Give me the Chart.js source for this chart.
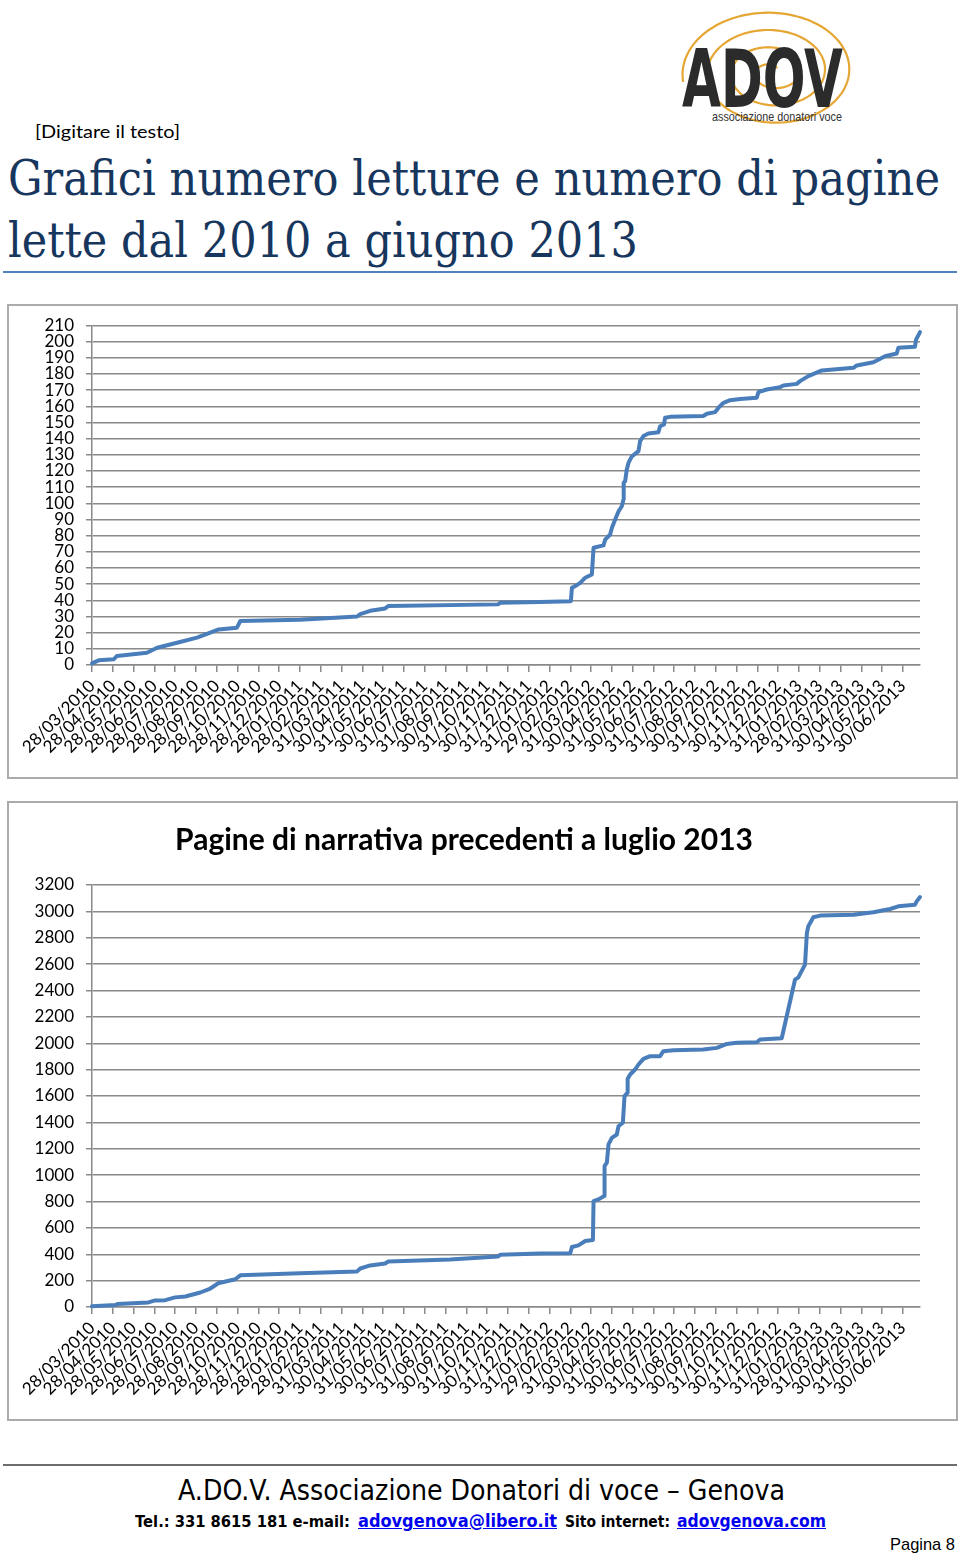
<!DOCTYPE html>
<html><head><meta charset="utf-8">
<script src="https://cdn.jsdelivr.net/npm/chart.js@4.4.1/dist/chart.umd.min.js"></script>
<style>
html,body{margin:0;padding:0;background:#fff;}
body{width:960px;height:1556px;position:relative;overflow:hidden;font-family:Lato,sans-serif;}
.abs{position:absolute;white-space:nowrap;line-height:1;}
.fit{transform-origin:0 0;display:inline-block;}
.frame{position:absolute;border:2px solid #ababab;box-sizing:border-box;pointer-events:none;}
canvas{position:absolute;}
a{color:#0000ee;}
</style></head><body>

<svg id="logo" class="abs" style="left:640px;top:0;" width="220" height="135" viewBox="0 0 220 135">
  <polyline id="spiral" fill="none" stroke="#e6a634" stroke-width="2.2" points=""/>
  <text x="42" y="107" font-family="DejaVu Sans" font-weight="bold" font-size="80" fill="#2b2b2b" textLength="161" lengthAdjust="spacingAndGlyphs">ADOV</text>
  <text x="72" y="121" font-family="Liberation Sans Narrow, Liberation Sans" font-size="13" fill="#333" textLength="130" lengthAdjust="spacingAndGlyphs">associazione donatori voce</text>
</svg>

<div class="abs" style="left:35px;top:122px;font-size:18px;color:#000;"><span class="fit" data-w="145">[Digitare il testo]</span></div>
<div class="abs" style="left:8px;top:154px;font-family:'DejaVu Serif',serif;font-size:48px;color:#17365D;"><span class="fit" data-w="932">Grafici numero letture e numero di pagine</span></div>
<div class="abs" style="left:8px;top:216px;font-family:'DejaVu Serif',serif;font-size:48px;color:#17365D;"><span class="fit" data-w="630">lette dal 2010 a giugno 2013</span></div>
<div class="abs" style="left:3px;top:271px;width:954px;height:2px;background:#4F81BD;"></div>

<canvas id="c1" width="949" height="473" style="left:8px;top:305px;"></canvas>
<div class="frame" style="left:7px;top:304px;width:951px;height:475px;"></div>
<canvas id="c2" width="949" height="618" style="left:8px;top:802px;"></canvas>
<div class="frame" style="left:7px;top:801px;width:951px;height:620px;"></div>

<div class="abs" style="left:3px;top:1464px;width:954px;height:2px;background:#6d6d6d;"></div>
<div class="abs" style="left:178px;top:1476px;font-family:'DejaVu Sans',sans-serif;font-size:29px;color:#000;"><span class="fit" data-w="607">A.DO.V. Associazione Donatori di voce – Genova</span></div>
<div class="abs" style="left:135px;top:1514px;font-family:'DejaVu Sans',sans-serif;font-weight:bold;font-size:16px;color:#000;"><span class="fit" data-w="215">Tel.: 331 8615 181 e-mail:</span></div>
<div class="abs" style="left:358px;top:1512px;font-family:'DejaVu Sans',sans-serif;font-weight:bold;font-size:18px;"><a class="fit" data-w="199" href="#">adovgenova@libero.it</a></div>
<div class="abs" style="left:565px;top:1514px;font-family:'DejaVu Sans',sans-serif;font-weight:bold;font-size:16px;color:#000;"><span class="fit" data-w="105">Sito internet:</span></div>
<div class="abs" style="left:677px;top:1512px;font-family:'DejaVu Sans',sans-serif;font-weight:bold;font-size:18px;"><a class="fit" data-w="149" href="#">adovgenova.com</a></div>
<div class="abs" style="left:890px;top:1536px;font-family:'Liberation Sans Narrow','Liberation Sans',sans-serif;font-size:17px;color:#000;"><span class="fit" data-w="65">Pagina 8</span></div>

<script>
// ---------- DATA ----------
const tickLabels = ["28/03/2010","28/04/2010","28/05/2010","28/06/2010","28/07/2010","28/08/2010","28/09/2010","28/10/2010","28/11/2010","28/12/2010","28/01/2011","28/02/2011","31/03/2011","30/04/2011","31/05/2011","30/06/2011","31/07/2011","31/08/2011","30/09/2011","31/10/2011","30/11/2011","31/12/2011","31/01/2012","29/02/2012","31/03/2012","30/04/2012","31/05/2012","30/06/2012","31/07/2012","31/08/2012","30/09/2012","31/10/2012","30/11/2012","31/12/2012","31/01/2013","28/02/2013","31/03/2013","30/04/2013","31/05/2013","30/06/2013"];

// x = months elapsed since 28/03/2010 (fractional), y = cumulative value
const lettureX = [0,0.32,1.04,1.2,2.64,3.13,4.09,5.05,5.69,6.09,6.97,7.13,10.0,12.75,12.9,13.38,14.1,14.25,19.53,19.63,21.55,23.03,23.08,23.24,23.48,23.72,24.04,24.12,24.6,24.68,24.92,25.0,25.16,25.32,25.48,25.56,25.57,25.64,25.72,25.8,25.96,26.28,26.36,26.52,26.76,27.24,27.32,27.51,27.56,27.8,29.4,29.57,29.97,30.12,30.37,30.69,31.17,31.97,32.05,32.45,33.09,33.25,33.89,34.05,34.45,35.1,36.62,36.78,37.58,38.14,38.7,38.78,39.58,39.63,39.82];
const lettureY = [1,2.9,3.5,5.6,7.6,10.7,13.8,16.9,20,22,23.1,27.2,28,30,31.5,33.5,35,36.5,37.5,38.5,39,39.5,47.7,48.8,50.8,54,56,72.5,74,77.6,80.7,84.8,90,95,98.2,102.4,112.7,113.7,121,125,129,132.3,138.5,141.6,143.2,144,147.7,148.8,152.9,153.5,154,155.4,156.4,159,162.2,163.8,164.6,165.3,168.8,170.4,171.9,172.9,173.9,175.6,178.7,182.2,183.8,185.3,187.3,191,192.7,196.2,196.8,201.3,205.9];

const pagineX = [0,1.12,1.22,2.71,3.04,3.52,4.0,4.49,5.21,5.69,5.93,6.07,6.89,7.13,10.01,12.75,12.9,13.38,14.1,14.25,17.22,19.53,19.63,21.55,23.0,23.08,23.39,23.72,24.09,24.12,24.36,24.63,24.65,24.76,24.84,25.0,25.24,25.32,25.53,25.56,25.61,25.75,25.76,25.88,26.12,26.28,26.52,26.84,27.32,27.48,27.96,29.4,30.05,30.53,31.01,31.97,32.13,33.17,33.81,33.97,34.29,34.38,34.45,34.69,35.02,36.62,37.58,38.38,38.78,39.58,39.66,39.82];
const pagineY = [5,15,22,35,50,52,73,80,110,140,165,180,210,240,255,270,292,315,330,345,360,383,397,405,407,455,467,500,508,803,816,841,1068,1094,1233,1283,1308,1371,1397,1472,1599,1624,1730,1763,1801,1839,1882,1902,1902,1940,1947,1952,1965,1995,2003,2008,2028,2038,2483,2500,2596,2836,2887,2955,2968,2975,2993,3018,3038,3051,3076,3109];

const chart2Title = "Pagine di narrativa precedenti a luglio 2013";

// ---------- RENDER ----------
Chart.defaults.font.family = "Lato, sans-serif";
Chart.defaults.color = "#000";
const GRID = "#8a8a8a";

function makeChart(id, xs, ys, yMax, yStep, title, xMax) {
  const opts = {
    responsive: false,
    animation: false,
    devicePixelRatio: 1,
    layout: { padding: { top: title ? 0 : 20, right: 37, left: 0, bottom: 0 } },
    plugins: {
      legend: { display: false },
      tooltip: { enabled: false },
      title: title ? {
        display: true, text: title, color: "#000",
        font: { family: "Lato, sans-serif", size: 30, weight: "bold", lineHeight: 1.2 },
        padding: { top: 20, bottom: 27 }
      } : { display: false }
    },
    scales: {
      x: {
        type: "linear", min: 0, max: xMax,
        afterBuildTicks: (s) => { s.ticks = tickLabels.map((_, i) => ({ value: i })); },
        afterFit: (s) => { s.height = 113; },
        ticks: {
          autoSkip: false, maxRotation: 45, minRotation: 45, padding: 4,
          font: { size: 17 }, color: "#000",
          callback: (v) => tickLabels[v]
        },
        grid: { drawOnChartArea: false, drawTicks: true, tickLength: 7, color: GRID, lineWidth: 1.5 },
        border: { color: GRID, width: 1.5 }
      },
      y: {
        min: 0, max: yMax,
        afterFit: (s) => { s.width = 84; },
        ticks: { stepSize: yStep, autoSkip: false, padding: 12, font: { size: 17, lineHeight: 1 }, color: "#000",
                 callback: (v) => String(v) },
        grid: { color: GRID, lineWidth: 1.5, tickLength: 6, drawTicks: true },
        border: { color: GRID, width: 1.5 }
      }
    }
  };
  return new Chart(document.getElementById(id), {
    type: "line",
    data: { datasets: [{
      data: xs.map((x, i) => ({ x: x, y: ys[i] })),
      borderColor: "#4a7ebb", borderWidth: 4, pointRadius: 0, tension: 0,
      fill: false, borderJoinStyle: "round", borderCapStyle: "round", clip: false
    }] },
    options: opts
  });
}

makeChart("c1", lettureX, lettureY, 210, 10, null, 39.82);
makeChart("c2", pagineX, pagineY, 3200, 200, chart2Title, 39.82);

// logo spiral (decoration)
(function(){
  const pts = [];
  const cx = 132, cy = 72, turns = 3.4, N = 500;
  for (let i = 0; i <= N; i++) {
    const t = i / N;
    const a = Math.PI * 0.95 + t * turns * 2 * Math.PI;
    const rx = 90 * (1 - 0.92 * t), ry = 64 * (1 - 0.92 * t);
    pts.push((cx + rx * Math.cos(a)).toFixed(1) + "," + (cy + ry * Math.sin(a)).toFixed(1));
  }
  document.getElementById("spiral").setAttribute("points", pts.join(" "));
})();

// fit text widths
function fitAll(){
  document.querySelectorAll(".fit").forEach(el => {
    el.style.transform = "none";
    const w = el.getBoundingClientRect().width;
    const target = parseFloat(el.dataset.w);
    if (w > 0) el.style.transform = "scaleX(" + (target / w) + ")";
  });
}
fitAll();
if (document.fonts && document.fonts.ready) document.fonts.ready.then(fitAll);
</script>
</body></html>
